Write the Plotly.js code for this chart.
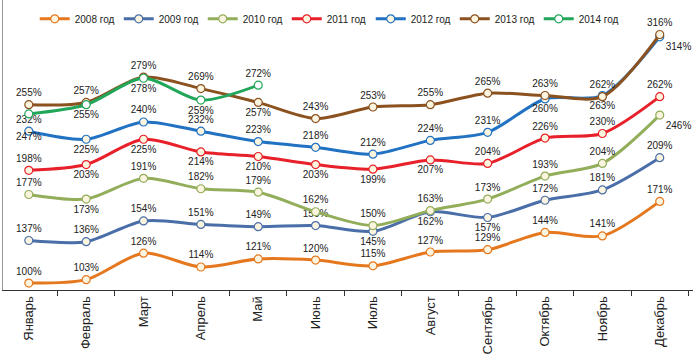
<!DOCTYPE html>
<html>
<head>
<meta charset="utf-8">
<script src="https://cdn.plot.ly/plotly-3.0.1.min.js"></script>
<style>html,body{margin:0;padding:0;background:#fff}#chart{width:694px;height:357px}</style>
</head>
<body>
<div id="chart"></div>
<script>
const months = ['Январь','Февраль','Март','Апрель','Май','Июнь','Июль','Август','Сентябрь','Октябрь','Ноябрь','Декабрь'];
const seriesNames = ['2008 год','2009 год','2010 год','2011 год','2012 год','2013 год','2014 год'];
const v2008 = [100,103,126,114,121,120,115,127,129,144,141,171];
const v2009 = [137,136,154,151,149,150,145,162,157,172,181,209];
const v2010 = [177,173,191,182,179,162,150,163,173,193,204,246];
const v2011 = [198,203,225,214,210,203,199,207,204,226,230,262];
const v2012 = [232,225,240,232,223,218,212,224,231,260,263,314];
const v2013 = [255,257,279,269,257,243,253,255,265,263,262,316];
const v2014 = [247,255,278,259,272];

const values = [v2008,v2009,v2010,v2011,v2012,v2013,v2014];
const colors = ['#E5781E','#4A6EA8','#93AE5A','#E8202A','#2272C3','#8B5220','#21A65A'];
const T='top center', B='bottom center', BR='bottom right';
const labelPos = [
  [T,T,T,T,T,T,T,T,T,T,T,T],
  [T,T,T,T,T,T,B,B,B,T,T,T],
  [T,B,T,T,T,T,T,T,T,T,T,BR],
  [T,B,B,B,B,B,B,B,T,T,T,T],
  [T,B,T,T,T,T,T,T,T,B,B,BR],
  [T,T,T,T,B,T,T,T,T,T,T,T],
  [B,B,B,B,T]
];
// extra blank line pushes a crowded label further from its point
const labelPad = [[],[],[],[],[],[],[0]];

const traces = values.map((vals, i) => ({
  type: 'scatter',
  mode: 'lines+markers+text',
  name: seriesNames[i],
  x: months.slice(0, vals.length),
  y: vals,
  text: vals.map((v, j) => (labelPad[i].includes(j) ? '<br>' : '') + v + '%'),
  textposition: labelPos[i],
  textfont: {family: 'Liberation Sans, Arial, sans-serif', size: 10, color: '#222'},
  cliponaxis: false,
  line: {color: colors[i], width: 3, shape: 'spline', smoothing: 0.8},
  marker: {symbol: 'circle', size: 8, color: i === 6 ? '#ffffff' : '#FBF5E0', line: {color: colors[i], width: 1.2}}
}));

const layout = {
  width: 694, height: 357,
  margin: {l: 3, r: 1, t: 0, b: 67},
  paper_bgcolor: '#fff', plot_bgcolor: '#fff',
  font: {family: 'Liberation Sans, Arial, sans-serif', size: 11, color: '#222'},
  showlegend: true,
  legend: {orientation: 'h', x: 0.046, xanchor: 'left', y: 0.935, yanchor: 'middle',
           font: {size: 10, color: '#222'}, bgcolor: 'rgba(0,0,0,0)', entrywidth: 39, entrywidthmode: 'pixels'},
  xaxis: {type: 'category', range: [-0.45, 11.58], showline: true, linecolor: '#333', linewidth: 1,
          ticks: 'outside', tickson: 'boundaries', ticklen: 5, tickcolor: '#333',
          tickangle: -90, showgrid: false, zeroline: false, fixedrange: true,
          tickfont: {size: 13, color: '#222'}},
  yaxis: {range: [94, 346], showline: true, linecolor: '#999', linewidth: 1, ticks: '',
          showticklabels: false, showgrid: false, zeroline: false, fixedrange: true}
};

Plotly.newPlot('chart', traces, layout, {displayModeBar: false, staticPlot: true});
</script>
</body>
</html>
